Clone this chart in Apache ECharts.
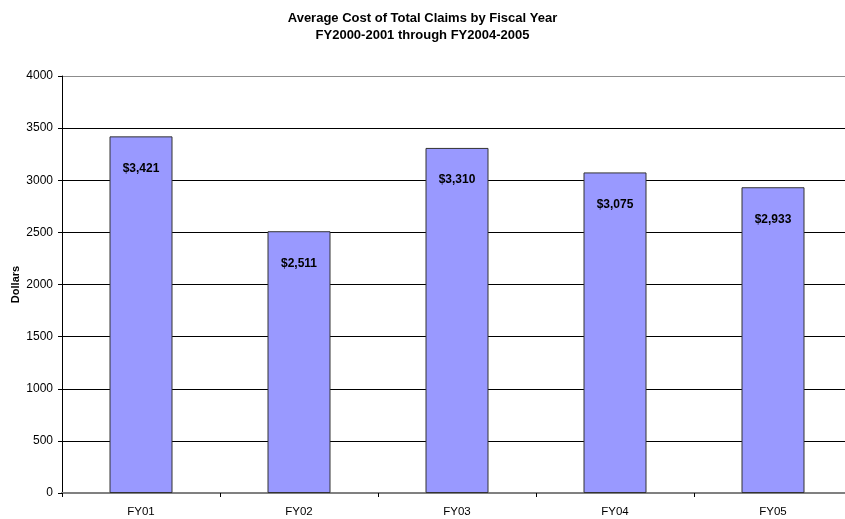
<!DOCTYPE html>
<html>
<head>
<meta charset="utf-8">
<script src="https://cdn.jsdelivr.net/npm/echarts@6/dist/echarts.min.js"></script>
<style>
  html, body { margin: 0; padding: 0; background: #fff; }
  #chart { width: 845px; height: 519px; }
</style>
</head>
<body>
<div id="chart"></div>
<script>
// Fiscal years and average cost of total claims (dollars)
const categories = ['FY01', 'FY02', 'FY03', 'FY04', 'FY05'];
const avgCost = [3421, 2511, 3310, 3075, 2933];
const yTicks = { min: 0, max: 4000, interval: 500 };

const fmtDollar = v => '$' + v.toLocaleString('en-US');

// Gridlines are black, except the top one which is a lighter grey
const gridCount = (yTicks.max - yTicks.min) / yTicks.interval + 1;
const gridColors = Array.from({ length: gridCount }, (_, i) => (i === gridCount - 1 ? '#8c8c8c' : '#000'));

const chart = echarts.init(document.getElementById('chart'), null, { renderer: 'canvas' });
chart.setOption({
  animation: false,
  backgroundColor: '#ffffff',
  textStyle: { fontFamily: 'Liberation Sans, Arial, sans-serif' },
  title: {
    text: 'Average Cost of Total Claims by Fiscal Year\nFY2000-2001 through FY2004-2005',
    left: 'center',
    top: 5,
    textStyle: { fontSize: 13, fontWeight: 'bold', color: '#000', lineHeight: 17, fontFamily: 'Liberation Sans, Arial, sans-serif' }
  },
  // The plot area runs slightly past the right edge of the canvas
  grid: { left: 62, top: 76, width: 790, bottom: 26, containLabel: false, outerBoundsMode: 'none' },
  xAxis: {
    type: 'category',
    data: categories,
    axisLine: { show: true, lineStyle: { color: '#808080', width: 2 } },
    axisTick: { show: true, length: 4, lineStyle: { color: '#000' } },
    axisLabel: { color: '#000', fontSize: 11.5, margin: 13 }
  },
  yAxis: {
    type: 'value',
    min: yTicks.min,
    max: yTicks.max,
    interval: yTicks.interval,
    name: 'Dollars',
    nameLocation: 'middle',
    nameGap: 41,
    nameMoveOverlap: false,
    nameRotate: 90,
    nameTextStyle: { fontSize: 11, fontWeight: 'bold', color: '#000' },
    axisLine: { show: true, lineStyle: { color: '#000', width: 1 } },
    axisTick: { show: true, length: 4, lineStyle: { color: '#000' } },
    axisLabel: { color: '#000', fontSize: 12, margin: 9, formatter: v => String(v) },
    splitLine: { show: true, lineStyle: { color: gridColors, width: 1 } }
  },
  series: [{
    type: 'bar',
    data: avgCost,
    barWidth: 63,
    itemStyle: { color: '#9999FF', borderColor: '#333333', borderWidth: 1 },
    label: {
      show: true,
      position: 'insideTop',
      distance: 26,
      formatter: p => fmtDollar(p.value),
      color: '#000',
      fontSize: 12,
      fontWeight: 'bold'
    }
  }]
});
</script>
</body>
</html>
